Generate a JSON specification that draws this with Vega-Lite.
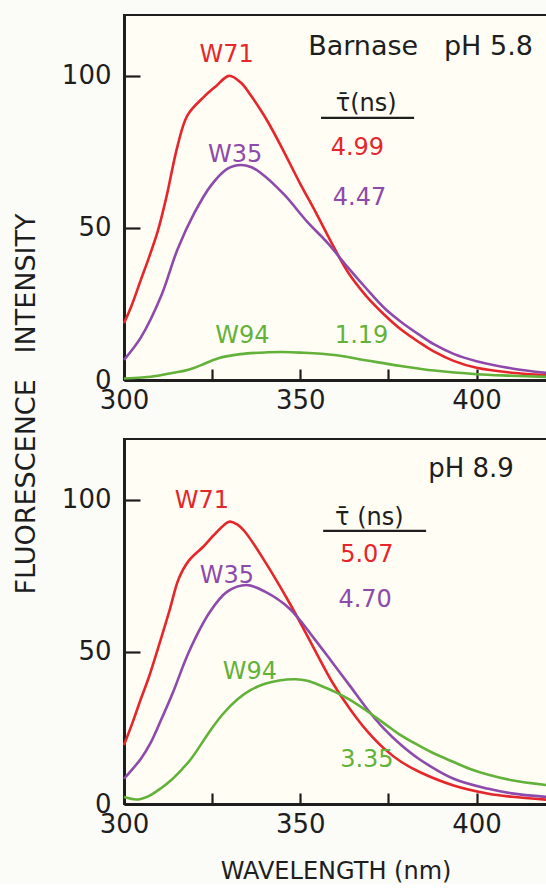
{
  "$schema": "https://vega.github.io/schema/vega-lite/v6.json",
  "background": "#fbfbf8",
  "padding": {"left": 13, "top": 14, "right": 0, "bottom": 0},
  "spacing": 24,
  "title": {"text": "FLUORESCENCE\u00a0\u00a0\u00a0INTENSITY", "orient": "left", "anchor": "middle", "font": "DejaVu Sans", "fontSize": 27, "fontWeight": "normal", "color": "#1e1e1e", "offset": 19, "dx": 45},
  "datasets": {
    "topCurves": [
      {"wl": 300, "I": 18.7, "series": "W71"}, {"wl": 302, "I": 24, "series": "W71"}, {"wl": 304.8, "I": 33, "series": "W71"}, {"wl": 307, "I": 40, "series": "W71"}, {"wl": 309.6, "I": 49, "series": "W71"}, {"wl": 312, "I": 60, "series": "W71"}, {"wl": 315.2, "I": 77, "series": "W71"}, {"wl": 318, "I": 87, "series": "W71"}, {"wl": 322.6, "I": 93, "series": "W71"}, {"wl": 326, "I": 96.5, "series": "W71"}, {"wl": 329.8, "I": 100, "series": "W71"}, {"wl": 333.2, "I": 97.7, "series": "W71"}, {"wl": 336, "I": 93.5, "series": "W71"}, {"wl": 338.9, "I": 88.5, "series": "W71"}, {"wl": 341, "I": 84.5, "series": "W71"}, {"wl": 344.5, "I": 77, "series": "W71"}, {"wl": 350, "I": 64.5, "series": "W71"}, {"wl": 354, "I": 56, "series": "W71"}, {"wl": 357.8, "I": 47.5, "series": "W71"}, {"wl": 363.5, "I": 35.5, "series": "W71"}, {"wl": 368.8, "I": 27.5, "series": "W71"}, {"wl": 374, "I": 21.3, "series": "W71"}, {"wl": 378.7, "I": 16.5, "series": "W71"}, {"wl": 383.6, "I": 12.5, "series": "W71"}, {"wl": 388, "I": 9.3, "series": "W71"}, {"wl": 393.5, "I": 6.3, "series": "W71"}, {"wl": 400, "I": 4.0, "series": "W71"}, {"wl": 410, "I": 2.4, "series": "W71"}, {"wl": 420, "I": 1.6, "series": "W71"},
      {"wl": 300, "I": 6.6, "series": "W35"}, {"wl": 304.8, "I": 14, "series": "W35"}, {"wl": 310.5, "I": 27.5, "series": "W35"}, {"wl": 315.2, "I": 43, "series": "W35"}, {"wl": 320, "I": 55, "series": "W35"}, {"wl": 324.7, "I": 64, "series": "W35"}, {"wl": 329.4, "I": 69.5, "series": "W35"}, {"wl": 333.2, "I": 70.7, "series": "W35"}, {"wl": 336, "I": 70, "series": "W35"}, {"wl": 338.9, "I": 68, "series": "W35"}, {"wl": 345.4, "I": 61, "series": "W35"}, {"wl": 352, "I": 52, "series": "W35"}, {"wl": 357.8, "I": 45, "series": "W35"}, {"wl": 363.5, "I": 37, "series": "W35"}, {"wl": 368.8, "I": 30, "series": "W35"}, {"wl": 374, "I": 23.5, "series": "W35"}, {"wl": 378.7, "I": 19, "series": "W35"}, {"wl": 383.6, "I": 15, "series": "W35"}, {"wl": 388, "I": 11.7, "series": "W35"}, {"wl": 393.5, "I": 8.6, "series": "W35"}, {"wl": 400, "I": 6.2, "series": "W35"}, {"wl": 410, "I": 3.8, "series": "W35"}, {"wl": 420, "I": 2.3, "series": "W35"},
      {"wl": 300, "I": 0.5, "series": "W94"}, {"wl": 305, "I": 0.8, "series": "W94"}, {"wl": 310, "I": 1.5, "series": "W94"}, {"wl": 314, "I": 2.4, "series": "W94"}, {"wl": 317, "I": 3, "series": "W94"}, {"wl": 320, "I": 4, "series": "W94"}, {"wl": 322.5, "I": 5.2, "series": "W94"}, {"wl": 326.6, "I": 7.1, "series": "W94"}, {"wl": 333, "I": 8.5, "series": "W94"}, {"wl": 340.8, "I": 9.1, "series": "W94"}, {"wl": 345, "I": 9.2, "series": "W94"}, {"wl": 350, "I": 9, "series": "W94"}, {"wl": 359.7, "I": 8.2, "series": "W94"}, {"wl": 369, "I": 6.4, "series": "W94"}, {"wl": 378.6, "I": 4.6, "series": "W94"}, {"wl": 388, "I": 3.1, "series": "W94"}, {"wl": 400, "I": 1.9, "series": "W94"}, {"wl": 410, "I": 1.4, "series": "W94"}, {"wl": 420, "I": 1.0, "series": "W94"}
    ],
    "bottomCurves": [
      {"wl": 300, "I": 19.4, "series": "W71"}, {"wl": 302.5, "I": 27, "series": "W71"}, {"wl": 304.8, "I": 34.6, "series": "W71"}, {"wl": 307, "I": 41.5, "series": "W71"}, {"wl": 310.5, "I": 54.4, "series": "W71"}, {"wl": 313, "I": 64, "series": "W71"}, {"wl": 315.5, "I": 74, "series": "W71"}, {"wl": 318.4, "I": 80, "series": "W71"}, {"wl": 322.4, "I": 84.5, "series": "W71"}, {"wl": 326, "I": 89, "series": "W71"}, {"wl": 329.8, "I": 92.8, "series": "W71"}, {"wl": 332, "I": 92, "series": "W71"}, {"wl": 334.3, "I": 89.5, "series": "W71"}, {"wl": 340, "I": 79.7, "series": "W71"}, {"wl": 347, "I": 66, "series": "W71"}, {"wl": 352, "I": 55.3, "series": "W71"}, {"wl": 359, "I": 40.2, "series": "W71"}, {"wl": 364, "I": 31.4, "series": "W71"}, {"wl": 368.8, "I": 24.2, "series": "W71"}, {"wl": 373.8, "I": 18.2, "series": "W71"}, {"wl": 378.7, "I": 13.8, "series": "W71"}, {"wl": 383.7, "I": 10.6, "series": "W71"}, {"wl": 393.5, "I": 6.1, "series": "W71"}, {"wl": 403.4, "I": 3.4, "series": "W71"}, {"wl": 410, "I": 2.4, "series": "W71"}, {"wl": 420, "I": 1.4, "series": "W71"},
      {"wl": 300, "I": 8.3, "series": "W35"}, {"wl": 304.8, "I": 14.9, "series": "W35"}, {"wl": 307.5, "I": 20, "series": "W35"}, {"wl": 310.5, "I": 27.6, "series": "W35"}, {"wl": 314, "I": 37, "series": "W35"}, {"wl": 318.4, "I": 50, "series": "W35"}, {"wl": 324.4, "I": 63.2, "series": "W35"}, {"wl": 329.3, "I": 69.8, "series": "W35"}, {"wl": 334.8, "I": 72, "series": "W35"}, {"wl": 340, "I": 69.8, "series": "W35"}, {"wl": 347, "I": 64.2, "series": "W35"}, {"wl": 354, "I": 54.3, "series": "W35"}, {"wl": 359, "I": 46.7, "series": "W35"}, {"wl": 364, "I": 39, "series": "W35"}, {"wl": 368.8, "I": 31.5, "series": "W35"}, {"wl": 373.8, "I": 24.7, "series": "W35"}, {"wl": 378.7, "I": 19.3, "series": "W35"}, {"wl": 383.7, "I": 14.8, "series": "W35"}, {"wl": 393.5, "I": 8.3, "series": "W35"}, {"wl": 403.4, "I": 5, "series": "W35"}, {"wl": 410, "I": 3.5, "series": "W35"}, {"wl": 420, "I": 2.3, "series": "W35"},
      {"wl": 300, "I": 2.3, "series": "W94"}, {"wl": 303.8, "I": 1.5, "series": "W94"}, {"wl": 307, "I": 2.6, "series": "W94"}, {"wl": 310.5, "I": 5.2, "series": "W94"}, {"wl": 313.5, "I": 8, "series": "W94"}, {"wl": 316.5, "I": 11.5, "series": "W94"}, {"wl": 319, "I": 14.8, "series": "W94"}, {"wl": 324.4, "I": 24, "series": "W94"}, {"wl": 328, "I": 29.5, "series": "W94"}, {"wl": 332.3, "I": 34.5, "series": "W94"}, {"wl": 336, "I": 37.5, "series": "W94"}, {"wl": 340, "I": 39.5, "series": "W94"}, {"wl": 344, "I": 40.6, "series": "W94"}, {"wl": 348.6, "I": 41, "series": "W94"}, {"wl": 352, "I": 40.5, "series": "W94"}, {"wl": 356, "I": 38.8, "series": "W94"}, {"wl": 360, "I": 36.8, "series": "W94"}, {"wl": 364, "I": 34.3, "series": "W94"}, {"wl": 368, "I": 31.3, "series": "W94"}, {"wl": 373.8, "I": 26.5, "series": "W94"}, {"wl": 378, "I": 23, "series": "W94"}, {"wl": 383.7, "I": 19.2, "series": "W94"}, {"wl": 388, "I": 16.6, "series": "W94"}, {"wl": 393.5, "I": 13.8, "series": "W94"}, {"wl": 398, "I": 11.6, "series": "W94"}, {"wl": 403.4, "I": 9.6, "series": "W94"}, {"wl": 410, "I": 7.8, "series": "W94"}, {"wl": 420, "I": 6.2, "series": "W94"}
    ],
    "topLabels": [
      {"wl": 329.1, "I": 104.6, "text": "W71", "series": "W71"},
      {"wl": 331.5, "I": 71.7, "text": "W35", "series": "W35"},
      {"wl": 333.6, "I": 12.2, "text": "W94", "series": "W94"},
      {"wl": 366.2, "I": 74, "text": "4.99", "series": "W71"},
      {"wl": 366.8, "I": 57.6, "text": "4.47", "series": "W35"},
      {"wl": 367.4, "I": 12.2, "text": "1.19", "series": "W94"},
      {"wl": 368.7, "I": 88.5, "text": "τ̄(ns)", "series": "text"}
    ],
    "topRight": [
      {"wl": 416, "I": 106.9, "text": "Barnase\u00a0\u00a0\u00a0pH 5.8", "series": "text"}
    ],
    "topRule": [
      {"wl": 355.9, "wl2": 382.3, "I": 86.2}
    ],
    "bottomLabels": [
      {"wl": 322.1, "I": 97.4, "text": "W71", "series": "W71"},
      {"wl": 329.2, "I": 72.7, "text": "W35", "series": "W35"},
      {"wl": 335.7, "I": 41.1, "text": "W94", "series": "W94"},
      {"wl": 368.9, "I": 79.6, "text": "5.07", "series": "W71"},
      {"wl": 368.4, "I": 64.8, "text": "4.70", "series": "W35"},
      {"wl": 368.9, "I": 12.2, "text": "3.35", "series": "W94"},
      {"wl": 369.6, "I": 91.8, "text": "τ̄\u00a0(ns)", "series": "text"}
    ],
    "bottomRight": [
      {"wl": 410.6, "I": 107.5, "text": "pH 8.9", "series": "text"}
    ],
    "bottomRule": [
      {"wl": 356.5, "wl2": 385.7, "I": 89.8}
    ]
  },
  "vconcat": [
    {
      "width": 423,
      "height": 365,
      "layer": [
        {
          "data": {"name": "topCurves"},
          "mark": {"type": "line", "interpolate": "catmull-rom", "strokeWidth": 2.6},
          "encoding": {
            "x": {"field": "wl", "type": "quantitative", "scale": {"domain": [300, 420], "nice": false, "zero": false}, "axis": {"title": null, "values": [300, 325, 350, 375, 400], "tickSize": -11, "labelPadding": 18, "labelExpr": "datum.value % 50 === 0 ? datum.label : ''"}},
            "y": {"field": "I", "type": "quantitative", "scale": {"domain": [0, 120], "nice": false}, "axis": {"title": null, "values": [0, 50, 100], "tickSize": -16, "labelPadding": 29}},
            "color": {"field": "series", "type": "nominal", "scale": {"domain": ["W71", "W35", "W94", "text"], "range": ["#e5262a", "#8d4aab", "#62b23a", "#1e1e1e"]}, "legend": null}
          }
        },
        {
          "data": {"name": "topLabels"},
          "mark": {"type": "text", "align": "center", "baseline": "alphabetic", "fontSize": 24, "font": "DejaVu Sans"},
          "encoding": {
            "x": {"field": "wl", "type": "quantitative"},
            "y": {"field": "I", "type": "quantitative"},
            "text": {"field": "text"},
            "color": {"field": "series", "type": "nominal", "legend": null}
          }
        },
        {
          "data": {"name": "topRight"},
          "mark": {"type": "text", "align": "right", "baseline": "alphabetic", "fontSize": 27, "font": "DejaVu Sans"},
          "encoding": {
            "x": {"field": "wl", "type": "quantitative"},
            "y": {"field": "I", "type": "quantitative"},
            "text": {"field": "text"},
            "color": {"field": "series", "type": "nominal", "legend": null}
          }
        },
        {
          "data": {"name": "topRule"},
          "mark": {"type": "rule", "strokeWidth": 2.2, "color": "#1e1e1e"},
          "encoding": {
            "x": {"field": "wl", "type": "quantitative"},
            "x2": {"field": "wl2"},
            "y": {"field": "I", "type": "quantitative"}
          }
        }
      ]
    },
    {
      "width": 423,
      "height": 365,
      "layer": [
        {
          "data": {"name": "bottomCurves"},
          "mark": {"type": "line", "interpolate": "catmull-rom", "strokeWidth": 2.6},
          "encoding": {
            "x": {"field": "wl", "type": "quantitative", "scale": {"domain": [300, 420], "nice": false, "zero": false}, "axis": {"title": "WAVELENGTH (nm)", "titleFontSize": 24, "values": [300, 325, 350, 375, 400], "tickSize": -11, "labelPadding": 18, "titlePadding": 22, "labelExpr": "datum.value % 50 === 0 ? datum.label : ''"}},
            "y": {"field": "I", "type": "quantitative", "scale": {"domain": [0, 120], "nice": false}, "axis": {"title": null, "values": [0, 50, 100], "tickSize": -16, "labelPadding": 29}},
            "color": {"field": "series", "type": "nominal", "scale": {"domain": ["W71", "W35", "W94", "text"], "range": ["#e5262a", "#8d4aab", "#62b23a", "#1e1e1e"]}, "legend": null}
          }
        },
        {
          "data": {"name": "bottomLabels"},
          "mark": {"type": "text", "align": "center", "baseline": "alphabetic", "fontSize": 24, "font": "DejaVu Sans"},
          "encoding": {
            "x": {"field": "wl", "type": "quantitative"},
            "y": {"field": "I", "type": "quantitative"},
            "text": {"field": "text"},
            "color": {"field": "series", "type": "nominal", "legend": null}
          }
        },
        {
          "data": {"name": "bottomRight"},
          "mark": {"type": "text", "align": "right", "baseline": "alphabetic", "fontSize": 26, "font": "DejaVu Sans"},
          "encoding": {
            "x": {"field": "wl", "type": "quantitative"},
            "y": {"field": "I", "type": "quantitative"},
            "text": {"field": "text"},
            "color": {"field": "series", "type": "nominal", "legend": null}
          }
        },
        {
          "data": {"name": "bottomRule"},
          "mark": {"type": "rule", "strokeWidth": 2.2, "color": "#1e1e1e"},
          "encoding": {
            "x": {"field": "wl", "type": "quantitative"},
            "x2": {"field": "wl2"},
            "y": {"field": "I", "type": "quantitative"}
          }
        }
      ]
    }
  ],
  "config": {
    "view": {"stroke": "#1e1e1e", "strokeWidth": 2, "fill": "#fffdf4"},
    "axis": {
      "grid": false,
      "domainColor": "#1e1e1e",
      "domainWidth": 3,
      "tickColor": "#1e1e1e",
      "tickWidth": 2.2,
      "labelFont": "DejaVu Sans",
      "labelFontSize": 26,
      "labelColor": "#1e1e1e",
      "labelFlush": false,
      "labelOverlap": false,
      "titleFont": "DejaVu Sans",
      "titleFontSize": 26,
      "titleFontWeight": "normal",
      "titleColor": "#1e1e1e"
    }
  }
}
